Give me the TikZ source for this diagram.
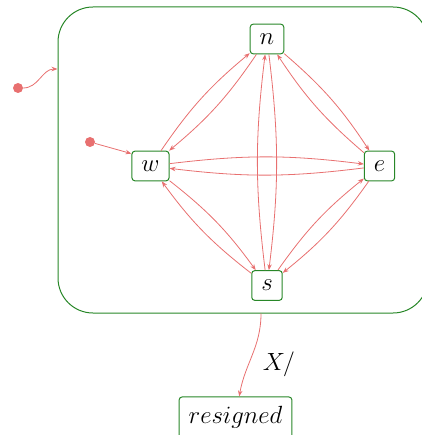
\documentclass[tikz,border=0pt]{standalone}
\usetikzlibrary{arrows.meta}
\definecolor{stgreen}{RGB}{40,135,40}
\definecolor{trred}{RGB}{232,112,112}
\tikzset{
  stbox/.style={draw=stgreen, line width=1pt, rounded corners=3pt, inner sep=9.5pt,
    font=\fontsize{25}{30}\selectfont, fill=white},
  grpbox/.style={draw=stgreen, line width=1pt, rounded corners=35pt,
    minimum width=370pt, minimum height=306pt},
  tr/.style={draw=trred, line width=0.8pt, -{Stealth[length=6pt,width=4.5pt,inset=2pt]}},
  initdot/.style={circle, fill=trred, inner sep=0pt, minimum size=10pt},
  lbl/.style={font=\fontsize{25}{30}\selectfont, inner sep=0pt}
}
\begin{document}
\begin{tikzpicture}[x=1pt,y=-1pt]
\useasboundingbox (0,0) rectangle (421,435);
\node[grpbox] (grp) at (243,160) {};
\node[stbox] (n) at (267,39) {$n$};
\node[stbox] (w) at (150.5,166) {$w$};
\node[stbox] (e) at (379.5,166) {$e$};
\node[stbox] (s) at (267,285.5) {$s$};
\node[stbox] (r) at (235.5,417.5) {$resigned$};
\node[initdot] (d1) at (18,88) {};
\node[initdot] (d2) at (90,142) {};
\node[lbl] (lab) at (279,364) {$X/$};

\draw[tr] (d1) to[out=0,in=180] ([yshift=91pt]grp.west);
\draw[tr] (d2) -- ([yshift=-3pt]w.north west);

\draw[tr] (w) to[bend left=8] (n);
\draw[tr] (n) to[bend left=8] (w);
\draw[tr] (n) to[bend left=8] (e);
\draw[tr] (e) to[bend left=8] (n);
\draw[tr] (n) to[bend left=7] (s);
\draw[tr] (s) to[bend left=7] (n);
\draw[tr] (w) to[bend left=7] (e);
\draw[tr] (e) to[bend left=7] (w);
\draw[tr] (w) to[bend left=8] (s);
\draw[tr] (s) to[bend left=8] (w);
\draw[tr] (e) to[bend left=8] (s);
\draw[tr] (s) to[bend left=8] (e);

\draw[tr] ([xshift=18pt]grp.south) to[out=-90,in=80] (r);
\end{tikzpicture}
\end{document}
